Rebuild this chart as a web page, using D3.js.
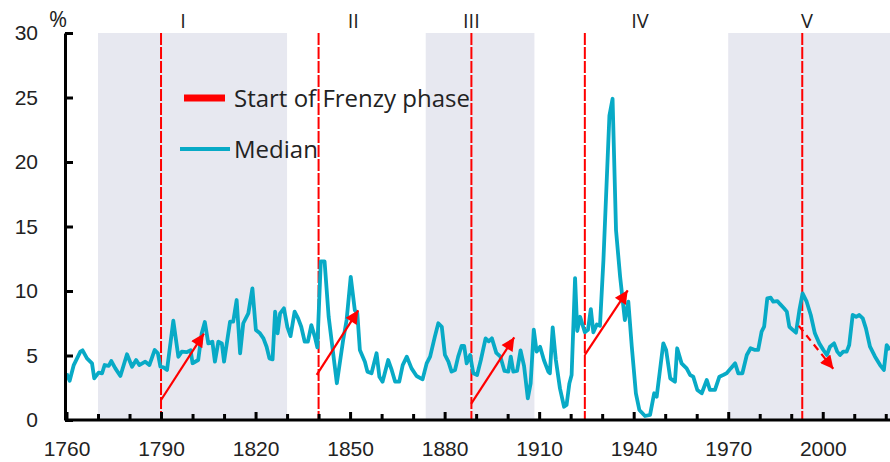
<!DOCTYPE html>
<html>
<head>
<meta charset="utf-8">
<script src="https://cdn.jsdelivr.net/npm/d3@7"></script>
<style>
  html, body { margin: 0; padding: 0; background: #fff; }
  svg { display: block; font-family: 'Open Sans', sans-serif; }
</style>
</head>
<body>
<svg id="chart"></svg>
<script>
// ── Data ──────────────────────────────────────────────────────
const years = [
  1760, 1761, 1762.3, 1764.4, 1765.1, 1766.5, 1768.1, 1768.8, 1770.2, 1771.3,
  1772.1, 1773.4, 1774.2, 1775.5, 1777.1, 1779.2, 1780.8, 1782.1, 1783.1, 1785,
  1786.3, 1788, 1789, 1789.8, 1790.8, 1791.9, 1793.9, 1795.5, 1796.6, 1798.1,
  1799.4, 1800, 1801.8, 1802.9, 1803.9, 1805, 1806.3, 1807.1, 1808.2, 1809.3,
  1810, 1811.9, 1812.9, 1814, 1815.1, 1816.1, 1817.7, 1819, 1820.1, 1821.4,
  1822.5, 1823.5, 1824.4, 1825.4, 1826.2, 1827, 1827.8, 1829, 1830.1, 1831.1,
  1832.4, 1833.5, 1834.5, 1835.6, 1836.6, 1837.7, 1838.8, 1839.6, 1840.7, 1841.9,
  1843.2, 1845.8, 1847.8, 1848.9, 1850.2, 1851.5, 1852.3, 1853.1, 1854.7, 1855.5,
  1856.8, 1858.4, 1859.3, 1860.3, 1862.1, 1863.2, 1864.3, 1865.6, 1866.7, 1868,
  1869.5, 1871.1, 1873, 1874.3, 1875.4, 1876.9, 1878, 1879.1, 1880.1, 1881.2,
  1882.2, 1883.3, 1884.3, 1885.4, 1886.2, 1887, 1888.1, 1889.1, 1890.3, 1891.5,
  1893, 1894, 1895, 1896.4, 1897.7, 1899, 1900.2, 1901, 1901.8, 1903,
  1904.1, 1905.2, 1906.4, 1907.3, 1908.3, 1909.2, 1910.3, 1911.5, 1912.9, 1913.4,
  1914.3, 1915.3, 1916.6, 1917.9, 1918.7, 1919.6, 1920.3, 1921.4, 1922.1, 1923,
  1924.5, 1925.5, 1926.4, 1927.2, 1928.3, 1929.3, 1930.4, 1932.3, 1933.3, 1934.4,
  1935.7, 1937.2, 1938.3, 1939.4, 1940.7, 1941.8, 1943.6, 1945.2, 1946.5, 1947.3,
  1949.4, 1950.3, 1951.6, 1953.1, 1953.8, 1955.2, 1956.8, 1957.9, 1958.9, 1960.2,
  1961.6, 1963.2, 1964.2, 1965.8, 1967.2, 1968.4, 1969.5, 1970.8, 1972.2, 1973.2,
  1974.5, 1975.9, 1977.1, 1978.5, 1979.5, 1980.6, 1981.4, 1982.4, 1983.5, 1984.3,
  1985.6, 1986.4, 1987.7, 1988.6, 1989.4, 1990.3, 1991.5, 1992.6, 1993.6, 1994.9,
  1996.2, 1997.5, 1998.9, 2000.2, 2001.3, 2002.3, 2003.6, 2004.6, 2005.5, 2006.5,
  2007.6, 2008.4, 2009.5, 2010.6, 2011.6, 2012.7, 2013.7, 2015, 2016.6, 2018.2,
  2019.4, 2020.3, 2021.4
];
const median = [
  3.6, 3.05, 4.26, 5.3, 5.4, 4.78, 4.39, 3.23, 3.67, 3.62,
  4.26, 4.19, 4.57, 4.0, 3.41, 5.1, 4.13, 4.65, 4.26, 4.52,
  4.26, 5.43, 5.17, 4.13, 4.08, 3.88, 7.7, 4.9, 5.3, 5.26,
  5.4, 4.4, 4.65, 6.7, 7.6, 5.94, 6.07, 4.52, 6.07, 5.94,
  4.52, 7.62, 7.62, 9.3, 5.17, 7.5, 8.27, 10.2, 6.98, 6.72,
  6.33, 5.68, 4.78, 4.7, 8.4, 6.72, 8.27, 8.66, 7.2, 6.5,
  8.4, 7.88, 7.23, 6.07, 6.07, 7.36, 6.46, 5.63, 12.3, 12.3,
  8.0, 2.85, 6.2, 7.75, 11.1, 8.5, 8.27, 5.43, 4.52, 3.75,
  3.62, 5.17, 3.36, 2.97, 4.65, 3.88, 2.97, 2.97, 4.26, 4.91,
  4.0, 3.41, 3.15, 4.39, 4.91, 6.46, 7.5, 7.23, 5.04, 4.52,
  3.75, 3.88, 4.91, 5.74, 5.74, 4.39, 5.04, 3.62, 3.49, 4.65,
  6.33, 6.1, 6.33, 5.2, 4.91, 3.8, 3.75, 4.91, 3.75, 3.8,
  5.4, 4.2, 1.68, 2.84, 7.0, 5.3, 5.68, 4.65, 3.75, 3.62,
  7.18, 4.65, 2.45, 1.03, 1.16, 2.84, 3.49, 11.0, 6.9, 8.0,
  6.8, 7.0, 8.6, 6.8, 7.4, 7.3, 12.4, 23.6, 24.9, 14.7,
  11.1, 7.75, 9.17, 5.68, 2.07, 0.78, 0.31, 0.39, 2.07, 1.81,
  5.94, 5.43, 3.23, 2.97, 5.56, 4.39, 4.0, 3.49, 3.36, 2.33,
  2.07, 3.1, 2.33, 2.33, 3.36, 3.49, 3.62, 4.0, 4.39, 3.62,
  3.62, 5.04, 5.56, 5.43, 5.43, 6.85, 7.23, 9.43, 9.48, 9.17,
  9.22, 9.0, 8.66, 8.4, 7.23, 7.03, 6.77, 8.53, 9.82, 9.17,
  8.14, 6.72, 5.94, 5.43, 5.04, 5.68, 5.94, 5.3, 5.04, 5.3,
  5.3, 5.81, 8.14, 8.0, 8.14, 7.88, 7.1, 5.68, 4.91, 4.26,
  3.88, 5.81, 5.43
];

// shaded periods
const bandStart = [1770, 1874, 1970];
const bandEnd   = [1830, 1908.5, 2022];

// start of Frenzy phase
const frenzyYears = [1790, 1840, 1888.5, 1924.5, 1993.5];

// surge labels
const surgeLabels = ['I', 'II', 'III', 'IV', 'V'];
const surgeLabelYears = [1797, 1851, 1888.5, 1942, 1995];

// arrows: [year, value] from -> to
const arrowFrom = [[1790, 1.55], [1839.4, 3.5], [1888.4, 1.25], [1924.5, 5.05], [1992.4, 7.3]];
const arrowTo   = [[1803.6, 6.7], [1852.6, 8.5], [1902.1, 6.4], [1938.1, 10.05], [2003.4, 3.95]];
const arrowDashed = [false, false, false, false, true];

const yTicks = [0, 5, 10, 15, 20, 25, 30];
const xTicks = d3.range(1760, 2030, 10);
const xLabels = [1760, 1790, 1820, 1850, 1880, 1910, 1940, 1970, 2000];

// ── Layout ─────────────────────────────────────────────────────
const W = 890, H = 462;
const M = { top: 33, left: 65, bottom: 42 };
const BAND = '#e7e8f0';
const CYAN = '#08aac6';
const RED = '#ff0000';
const INK = '#222';

const svg = d3.select('#chart').attr('width', W).attr('height', H);

const x = d3.scaleLinear().domain([1760, 2022]).range([66.5, 66.5 + 262 * 3.151]);
const y = d3.scaleLinear().domain([0, 30]).range([H - M.bottom, M.top]);

// bands
svg.append('g').selectAll('rect')
  .data(bandStart)
  .join('rect')
  .attr('x', (d) => x(d))
  .attr('width', (d, i) => x(bandEnd[i]) - x(d))
  .attr('y', y(30))
  .attr('height', y(0) - y(30))
  .attr('fill', BAND);

// frenzy lines
svg.append('g').selectAll('line')
  .data(frenzyYears)
  .join('line')
  .attr('x1', (d) => x(d)).attr('x2', (d) => x(d))
  .attr('y1', y(30)).attr('y2', y(0))
  .attr('stroke', RED).attr('stroke-width', 2)
  .attr('stroke-dasharray', '12,2');

// surge labels
svg.append('g').selectAll('text')
  .data(surgeLabels)
  .join('text')
  .attr('x', (d, i) => x(surgeLabelYears[i]))
  .attr('y', 28)
  .attr('text-anchor', 'middle')
  .attr('font-size', 20).attr('fill', INK)
  .text((d) => d);

// median line
const pts = years.map((yr, i) => [yr, median[i]]);
svg.append('path')
  .datum(pts)
  .attr('fill', 'none')
  .attr('stroke', CYAN).attr('stroke-width', 3.8)
  .attr('stroke-linejoin', 'round')
  .attr('d', d3.line().x((d) => x(d[0])).y((d) => y(d[1])));

// arrows
const defs = svg.append('defs');
defs.append('marker')
  .attr('id', 'head')
  .attr('viewBox', '0 0 10 10')
  .attr('refX', 10).attr('refY', 5)
  .attr('markerWidth', 7).attr('markerHeight', 6)
  .attr('markerUnits', 'strokeWidth')
  .attr('orient', 'auto')
  .append('path').attr('d', 'M0,0L10,5L0,10Z').attr('fill', RED);

svg.append('g').selectAll('line')
  .data(arrowFrom)
  .join('line')
  .attr('x1', (d) => x(d[0])).attr('y1', (d) => y(d[1]))
  .attr('x2', (d, i) => x(arrowTo[i][0])).attr('y2', (d, i) => y(arrowTo[i][1]))
  .attr('stroke', RED).attr('stroke-width', 2.2)
  .attr('stroke-dasharray', (d, i) => arrowDashed[i] ? '7,5' : null)
  .attr('marker-end', 'url(#head)');

// axes
const yAxis = svg.append('g')
  .attr('transform', `translate(${M.left},0)`)
  .call(d3.axisLeft(y).tickValues(yTicks).tickSizeInner(-8).tickSizeOuter(0).tickPadding(27));
yAxis.select('.domain').attr('stroke', '#000').attr('stroke-width', 3);
yAxis.selectAll('.tick line').attr('stroke', '#000').attr('stroke-width', 3);
yAxis.selectAll('.tick text').attr('font-size', 21).attr('fill', INK).attr('font-family', 'inherit');

const xAxis = svg.append('g')
  .attr('transform', `translate(0,${y(0)})`)
  .call(d3.axisBottom(x).tickValues(xTicks).tickSizeInner(-6).tickSizeOuter(0)
    .tickFormat((d) => xLabels.includes(d) ? d : ''));
xAxis.select('.domain').attr('stroke', '#000').attr('stroke-width', 3)
  .attr('d', `M${M.left},0H${W}`);
xAxis.selectAll('.tick line')
  .attr('stroke', '#000').attr('stroke-width', 3)
  .attr('y2', (d) => xLabels.includes(d) ? -8 : -6);
xAxis.selectAll('.tick text')
  .attr('font-size', 21).attr('fill', INK).attr('font-family', 'inherit')
  .attr('y', 36).attr('dy', 0);

// % unit
svg.append('text')
  .attr('x', 58).attr('y', 27)
  .attr('text-anchor', 'middle')
  .attr('font-size', 22).attr('fill', INK)
  .text('%');

// legend
const lg = svg.append('g');
lg.append('line')
  .attr('x1', 184).attr('x2', 225).attr('y1', 98).attr('y2', 98)
  .attr('stroke', RED).attr('stroke-width', 7);
lg.append('text')
  .attr('x', 234).attr('y', 98).attr('dy', '0.36em')
  .attr('font-size', 24).attr('fill', INK)
  .text('Start of Frenzy phase');
lg.append('line')
  .attr('x1', 180).attr('x2', 230).attr('y1', 149).attr('y2', 149)
  .attr('stroke', CYAN).attr('stroke-width', 3.8);
lg.append('text')
  .attr('x', 234).attr('y', 149).attr('dy', '0.36em')
  .attr('font-size', 24).attr('fill', INK)
  .text('Median');
</script>
</body>
</html>
